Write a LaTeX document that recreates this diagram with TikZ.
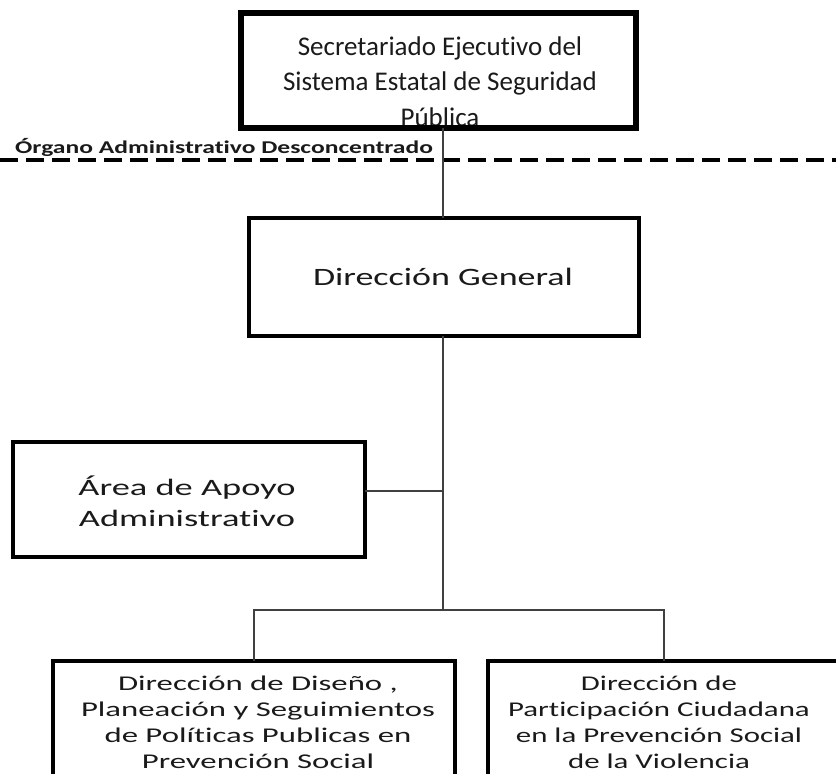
\documentclass[tikz,border=0pt]{standalone}
\usepackage{fontspec}
\defaultfontfeatures{Ligatures=NoCommon}
\setmainfont{Carlito}
\newfontfamily\fTop{Carlito}
\newfontfamily\fDG[FakeStretch=1.44]{Carlito}
\newfontfamily\fAA[FakeStretch=1.55]{Carlito}
\newfontfamily\fBotL[FakeStretch=1.56]{Carlito}
\newfontfamily\fBotR[FakeStretch=1.47]{Carlito}
\newfontfamily\fLab[FakeStretch=1.42]{Carlito}
\definecolor{connc}{HTML}{404040}
\definecolor{txtc}{HTML}{1A1A1A}
\begin{document}
\begin{tikzpicture}[x=1pt,y=-1pt,
  box/.style={draw=black, line width=4pt, inner sep=0pt, outer sep=0pt, rectangle},
  topbox/.style={box, line width=6pt},
  conn/.style={draw=connc, line width=1.4pt},
  sepline/.style={draw=black, line width=4.5pt, dash pattern=on 18pt off 8pt},
  txt/.style={text=txtc, inner sep=0pt, align=center, anchor=base}]
\useasboundingbox (0,0) rectangle (836,774);
\clip (0,0) rectangle (836,774);

% texts (drawn first so borders overlap them)
\node[txt, font=\fTop\fontsize{27}{35.5}\selectfont] (ttop) at (440,126)
  {Secretariado Ejecutivo del\\Sistema Estatal de Seguridad\\Pública};
\node[txt, font=\fDG\fontsize{25}{30}\selectfont] (tdg) at (443,285) {Dirección General};
\node[txt, font=\fAA\fontsize{23.5}{31}\selectfont] (taa) at (187,526)
  {Área de Apoyo\\Administrativo};
\node[txt, font=\fBotL\fontsize{21}{26}\selectfont] (tbl) at (258,768)
  {Dirección de Diseño ,\\Planeación y Seguimientos\\de Políticas Publicas en\\Prevención Social};
\node[txt, font=\fBotR\fontsize{21}{26}\selectfont] (tbr) at (659,768)
  {Dirección de\\Participación Ciudadana\\en la Prevención Social\\de la Violencia};

% boxes
\node[topbox, minimum width=395pt, minimum height=115pt] (top) at (438.5,70.5) {};
\node[box, minimum width=390pt, minimum height=118pt] (dg) at (444,277) {};
\node[box, minimum width=352pt, minimum height=115pt] (aa) at (189,499.5) {};
\node[box, minimum width=402pt, minimum height=160pt] (bl) at (254,741) {};
\node[box, minimum width=352pt, minimum height=160pt] (br) at (664,741) {};

% separator
\coordinate (dl) at (0,160);
\coordinate (dr) at (840,160);
\draw[sepline] (dl) -- (dr);
\node[font=\fLab\bfseries\fontsize{18}{20}\selectfont, text=txtc, anchor=base west, inner sep=0pt] (lab) at (15,153)
  {Órgano Administrativo Desconcentrado};

% connectors
\coordinate (ja) at (443,491);
\coordinate (jb) at (443,610);
\draw[conn] (top.south -| ja) -- (dg.north -| ja);
\draw[conn] (dg.south -| ja) -- (jb);
\draw[conn] (aa.east |- ja) -- (ja);
\draw[conn] (bl.north) |- (jb) -| (br.north);
\end{tikzpicture}
\end{document}
